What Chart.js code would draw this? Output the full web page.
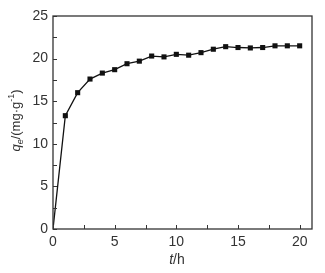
<!DOCTYPE html>
<html>
<head>
<meta charset="utf-8">
<script src="https://cdn.jsdelivr.net/npm/chart.js@4.4.1/dist/chart.umd.min.js"></script>
<style>
  html, body { margin: 0; padding: 0; background: #fff; }
  #wrap { width: 325px; height: 273px; }
</style>
</head>
<body>
<div id="wrap"><canvas id="chartFirst" width="325" height="273"></canvas></div>
<script>
// data
const timeH = [0, 1, 2, 3, 4, 5, 6, 7, 8, 9, 10, 11, 12, 13, 14, 15, 16, 17, 18, 19, 20];
const qeValues = [0, 13.3, 16.0, 17.6, 18.3, 18.7, 19.4, 19.7, 20.3, 20.2, 20.5, 20.4, 20.7, 21.1, 21.4, 21.3, 21.25, 21.3, 21.5, 21.5, 21.5];
const xTicks = [0, 5, 10, 15, 20];
const yTicks = [0, 5, 10, 15, 20, 25];
const xMinor = [2.5, 7.5, 12.5, 17.5];
const yMinor = [2.5, 7.5, 12.5, 17.5, 22.5];

const axisColor = '#333';
const fontFam = '"Liberation Sans", Arial, sans-serif';

window.onload = function(){
  drawFirstElement();
}

//-----frame, inward ticks and axis titles
const framePlugin = {
  id: 'frame',
  afterDraw(chart) {
    const ctx = chart.ctx;
    const a = chart.chartArea;
    const xs = chart.scales.x, ys = chart.scales.y;
    ctx.save();
    ctx.strokeStyle = axisColor;
    ctx.lineWidth = 1.3;
    ctx.strokeRect(a.left, a.top, a.right - a.left, a.bottom - a.top);
    ctx.lineWidth = 1;
    ctx.beginPath();
    xTicks.concat(xMinor).forEach(v => {
      const px = Math.round(xs.getPixelForValue(v)) + 0.5;
      ctx.moveTo(px, a.bottom);
      ctx.lineTo(px, a.bottom - 4);
    });
    yTicks.concat(yMinor).forEach(v => {
      const py = Math.round(ys.getPixelForValue(v)) + 0.5;
      ctx.moveTo(a.left, py);
      ctx.lineTo(a.left + 4, py);
    });
    ctx.stroke();

    // x title: t/h
    ctx.fillStyle = axisColor;
    ctx.textBaseline = 'alphabetic';
    ctx.font = 'italic 14px ' + fontFam;
    const wT = ctx.measureText('t').width;
    ctx.font = '14px ' + fontFam;
    const wH = ctx.measureText('/h').width;
    let x0 = 177 - (wT + wH) / 2;
    ctx.font = 'italic 14px ' + fontFam;
    ctx.fillText('t', x0, 264);
    ctx.font = '14px ' + fontFam;
    ctx.fillText('/h', x0 + wT, 264);

    // y title: qe/(mg·g-1)
    ctx.translate(20, (a.top + a.bottom) / 2 - 2);
    ctx.rotate(-Math.PI / 2);
    const parts = [
      {t: 'q', f: 'italic 13px ', dy: 0},
      {t: 'e', f: 'italic 9px ', dy: 3},
      {t: '/(mg·g', f: '13px ', dy: 0},
      {t: '-1', f: '9px ', dy: -6},
      {t: ')', f: '13px ', dy: 0}
    ];
    let total = 0;
    parts.forEach(p => { ctx.font = p.f + fontFam; p.w = ctx.measureText(p.t).width; total += p.w; });
    let cx = -total / 2;
    parts.forEach(p => {
      ctx.font = p.f + fontFam;
      ctx.fillText(p.t, cx, p.dy);
      cx += p.w;
    });
    ctx.restore();
  }
};

let chart1;
function drawFirstElement(){
  const ctx = document.getElementById('chartFirst').getContext('2d');
  if (chart1) {
    chart1.destroy();
  }
  chart1 = new Chart(ctx, {
    type: 'line',
    data: {
      datasets: [{
        data: timeH.map((t, i) => ({x: t, y: qeValues[i]})),
        borderColor: '#111',
        borderWidth: 1.3,
        backgroundColor: '#111',
        pointStyle: 'rect',
        pointRadius: timeH.map(t => t === 0 ? 0 : 3.6),
        pointBorderWidth: 0,
        tension: 0
      }]
    },
    plugins: [framePlugin],
    options: {
      responsive: false,
      animation: false,
      layout: { padding: { left: 0, right: 13, top: 16, bottom: 0 } },
      plugins: { legend: { display: false }, tooltip: { enabled: false } },
      scales: {
        x: {
          type: 'linear',
          min: 0, max: 21,
          afterBuildTicks: s => { s.ticks = xTicks.map(v => ({value: v})); },
          afterFit: s => { s.height = 44; },
          grid: { display: false, drawTicks: false },
          border: { display: false },
          ticks: { color: axisColor, padding: 5, font: { family: fontFam, size: 14 }, maxRotation: 0 }
        },
        y: {
          type: 'linear',
          min: 0, max: 25,
          afterBuildTicks: s => { s.ticks = yTicks.map(v => ({value: v})); },
          afterFit: s => { s.width = 53; },
          grid: { display: false, drawTicks: false },
          border: { display: false },
          ticks: { color: axisColor, padding: 5, font: { family: fontFam, size: 14 } }
        }
      }
    }
  });
}
</script>
</body>
</html>
